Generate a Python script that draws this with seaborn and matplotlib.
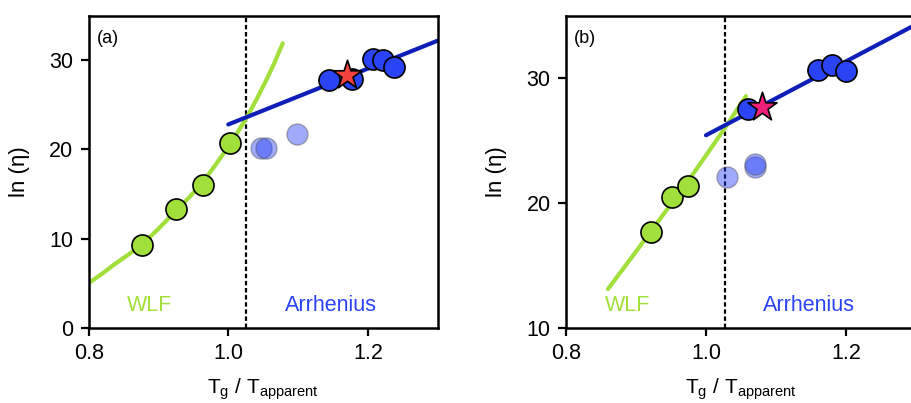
import numpy as np
import pandas as pd
import matplotlib
matplotlib.use("Agg")
import matplotlib.pyplot as plt
import seaborn as sns

sns.set_theme(style="ticks")
plt.rcParams['font.family'] = ['Liberation Sans', 'DejaVu Sans']
plt.rcParams.update({"text.color": "black", "axes.labelcolor": "black",
                     "xtick.color": "black", "ytick.color": "black",
                     "xtick.labelcolor": "black", "ytick.labelcolor": "black"})

# ---- Panel (a) data ----
a_green_x = [0.876, 0.925, 0.964, 1.002]
a_green_y = [9.3, 13.26, 16.03, 20.7]
a_blue_x = [1.144, 1.177, 1.207, 1.222, 1.238]
a_blue_y = [27.8, 27.9, 30.1, 30.0, 29.2]
a_faded_x = [1.047, 1.054, 1.099]
a_faded_y = [20.2, 20.2, 21.7]
a_star_x = [1.170]
a_star_y = [28.3]
a_wlf_x = [0.80, 0.82, 0.835, 0.855, 0.876, 0.90, 0.926, 0.945, 0.964, 0.982, 1.00, 1.014, 1.028, 1.041, 1.054, 1.066, 1.078]
a_wlf_y = [5.0, 6.1, 7.0, 8.1, 9.3, 11.1, 13.2, 14.7, 16.4, 18.3, 20.3, 22.0, 23.8, 25.7, 27.7, 29.7, 31.9]
a_arr_x = [1.0, 1.3]
a_arr_y = [22.8, 32.2]
a_tg = 1.026

# ---- Panel (b) data ----
b_green_x = [0.921, 0.952, 0.975]
b_green_y = [17.66, 20.5, 21.36]
b_blue_x = [1.060, 1.160, 1.180, 1.200]
b_blue_y = [27.49, 30.64, 31.08, 30.56]
b_faded_x = [1.030, 1.070, 1.070]
b_faded_y = [22.08, 22.9, 23.1]
b_star_x = [1.080]
b_star_y = [27.67]
b_wlf_x = [0.860, 0.88, 0.90, 0.921, 0.95, 0.975, 1.00, 1.027, 1.057]
b_wlf_y = [13.1, 14.6, 16.1, 17.7, 19.9, 21.8, 23.8, 26.0, 28.55]
b_arr_x = [1.0, 1.3]
b_arr_y = [25.42, 34.3]
b_tg = 1.027

GREEN = "#a1e03a"
BLUE = "#2a44f5"
LINE = "#0d1fb8"

fig = plt.figure(figsize=(9.12, 4.03), dpi=100)
W, H = 912, 403
axA = fig.add_axes([88.7 / W, 1 - 327.7 / H, (437.7 - 88.7) / W, (327.7 - 15.7) / H])
axB = fig.add_axes([566 / W, 1 - 327.7 / H, (916 - 566) / W, (327.7 - 15.7) / H])

def draw(ax, wx, wy, ax_, ay_, gx, gy, bx, by, fx, fy, sx, sy, tg, star_color, ylim, yticks, label):
    sns.lineplot(x=wx, y=wy, ax=ax, color=GREEN, lw=3, sort=True, zorder=2)
    sns.lineplot(x=ax_, y=ay_, ax=ax, color=LINE, lw=3, zorder=2)
    ax.axvline(tg, color="black", ls=(0, (2, 1.2)), lw=1.6, zorder=1)
    sns.scatterplot(x=fx, y=fy, ax=ax, color=BLUE, alpha=0.45, s=230, edgecolor="#555555", linewidth=1.0, zorder=3)
    sns.scatterplot(x=gx, y=gy, ax=ax, color=GREEN, s=230, edgecolor="black", linewidth=1.2, zorder=4)
    sns.scatterplot(x=bx, y=by, ax=ax, color=BLUE, s=230, edgecolor="black", linewidth=1.2, zorder=4)
    sns.scatterplot(x=sx, y=sy, ax=ax, color=star_color, marker="*", s=480, edgecolor="black", linewidth=1.2, zorder=5)
    ax.set_xlim(0.8, 1.3)
    ax.set_ylim(*ylim)
    ax.set_xticks([0.8, 1.0, 1.2])
    ax.set_xticklabels(["0.8", "1.0", "1.2"])
    ax.set_yticks(yticks)
    ax.tick_params(axis="both", labelsize=15.5, length=6, width=1.6, direction="out",
                   color="black", labelcolor="black", pad=5)
    for s in ax.spines.values():
        s.set_linewidth(1.8)
        s.set_color("black")
        s.set_visible(True)
    ax.set_xlabel(r"T$_\mathregular{g}$ / T$_\mathregular{apparent}$", fontsize=15, labelpad=9, color="black")
    ax.set_ylabel("ln (η)", fontsize=16, labelpad=14, color="black")
    ax.text(0.022, 0.955, label, transform=ax.transAxes, fontsize=13, va="top", ha="left", color="black")
    ax.text(0.175, 0.07, "WLF", transform=ax.transAxes, fontsize=15.5, color=GREEN, ha="center", va="center")
    ax.text(0.695, 0.07, "Arrhenius", transform=ax.transAxes, fontsize=15.5, color=BLUE, ha="center", va="center")
    ax.grid(False)

draw(axA, a_wlf_x, a_wlf_y, a_arr_x, a_arr_y, a_green_x, a_green_y, a_blue_x, a_blue_y,
     a_faded_x, a_faded_y, a_star_x, a_star_y, a_tg, "#f5413f", (0, 35), [0, 10, 20, 30], "(a)")
draw(axB, b_wlf_x, b_wlf_y, b_arr_x, b_arr_y, b_green_x, b_green_y, b_blue_x, b_blue_y,
     b_faded_x, b_faded_y, b_star_x, b_star_y, b_tg, "#f0207a", (10, 35), [10, 20, 30], "(b)")

fig.savefig("out.png", dpi=100)
